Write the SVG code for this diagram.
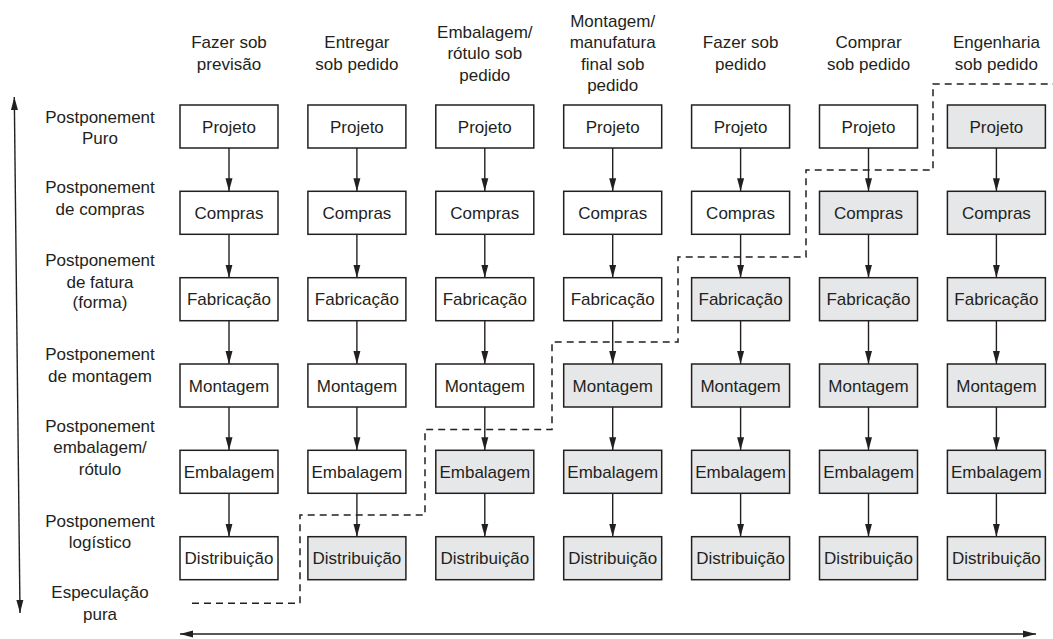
<svg xmlns="http://www.w3.org/2000/svg" width="1053" height="639" viewBox="0 0 1053 639">
<defs>
<marker id="ah" markerUnits="userSpaceOnUse" markerWidth="14" markerHeight="8" refX="13" refY="3.5" orient="auto-start-reverse" viewBox="0 0 14 7">
<path d="M0,0 L13,3.5 L0,7 Z" fill="#231f20"/>
</marker>
<style>
text{font-family:"Liberation Sans",Arial,sans-serif;font-size:17px;fill:#231f20;text-anchor:middle}
.b{fill:#fff;stroke:#231f20;stroke-width:1.5}
.g{fill:#e6e7e8;stroke:#231f20;stroke-width:1.5}
.c{stroke:#231f20;stroke-width:1.4;fill:none;marker-end:url(#ah)}
.ax{stroke:#231f20;stroke-width:1.4;fill:none;marker-start:url(#ah);marker-end:url(#ah)}
.d{stroke:#231f20;stroke-width:1.5;fill:none;stroke-dasharray:7 5}
</style>
</defs>
<rect width="1053" height="639" fill="#fff"/>

<g id="headers">
<text x="229" y="48">Fazer sob</text><text x="229" y="69.5">previsão</text>
<text x="356.9" y="48">Entregar</text><text x="356.9" y="69.5">sob pedido</text>
<text x="484.8" y="37.5">Embalagem/</text><text x="484.8" y="59">rótulo sob</text><text x="484.8" y="80.5">pedido</text>
<text x="612.7" y="26.5">Montagem/</text><text x="612.7" y="48">manufatura</text><text x="612.7" y="69.5">final sob</text><text x="612.7" y="91">pedido</text>
<text x="740.6" y="48">Fazer sob</text><text x="740.6" y="69.5">pedido</text>
<text x="868.5" y="48">Comprar</text><text x="868.5" y="69.5">sob pedido</text>
<text x="996.4" y="48">Engenharia</text><text x="996.4" y="69.5">sob pedido</text>
</g>

<g id="row-labels">
<text x="100" y="123.3">Postponement</text><text x="100" y="144">Puro</text>
<text x="100" y="193.3">Postponement</text><text x="100" y="215">de compras</text>
<text x="100" y="266">Postponement</text><text x="100" y="287.7">de fatura</text><text x="100" y="308.3">(forma)</text>
<text x="100" y="360">Postponement</text><text x="100" y="381.7">de montagem</text>
<text x="100" y="431.7">Postponement</text><text x="100" y="452.5">embalagem/</text><text x="100" y="474.5">rótulo</text>
<text x="100" y="526.7">Postponement</text><text x="100" y="547.5">logístico</text>
<text x="100" y="598.3">Especulação</text><text x="100" y="620">pura</text>
</g>

<g id="connectors">
<line class="c" x1="229" y1="148" x2="229" y2="191.3"/><line class="c" x1="229" y1="234.3" x2="229" y2="277.7"/><line class="c" x1="229" y1="320.7" x2="229" y2="364"/><line class="c" x1="229" y1="407" x2="229" y2="450.3"/><line class="c" x1="229" y1="493.3" x2="229" y2="536.7"/>
<line class="c" x1="356.9" y1="148" x2="356.9" y2="191.3"/><line class="c" x1="356.9" y1="234.3" x2="356.9" y2="277.7"/><line class="c" x1="356.9" y1="320.7" x2="356.9" y2="364"/><line class="c" x1="356.9" y1="407" x2="356.9" y2="450.3"/><line class="c" x1="356.9" y1="493.3" x2="356.9" y2="536.7"/>
<line class="c" x1="484.8" y1="148" x2="484.8" y2="191.3"/><line class="c" x1="484.8" y1="234.3" x2="484.8" y2="277.7"/><line class="c" x1="484.8" y1="320.7" x2="484.8" y2="364"/><line class="c" x1="484.8" y1="407" x2="484.8" y2="450.3"/><line class="c" x1="484.8" y1="493.3" x2="484.8" y2="536.7"/>
<line class="c" x1="612.7" y1="148" x2="612.7" y2="191.3"/><line class="c" x1="612.7" y1="234.3" x2="612.7" y2="277.7"/><line class="c" x1="612.7" y1="320.7" x2="612.7" y2="364"/><line class="c" x1="612.7" y1="407" x2="612.7" y2="450.3"/><line class="c" x1="612.7" y1="493.3" x2="612.7" y2="536.7"/>
<line class="c" x1="740.6" y1="148" x2="740.6" y2="191.3"/><line class="c" x1="740.6" y1="234.3" x2="740.6" y2="277.7"/><line class="c" x1="740.6" y1="320.7" x2="740.6" y2="364"/><line class="c" x1="740.6" y1="407" x2="740.6" y2="450.3"/><line class="c" x1="740.6" y1="493.3" x2="740.6" y2="536.7"/>
<line class="c" x1="868.5" y1="148" x2="868.5" y2="191.3"/><line class="c" x1="868.5" y1="234.3" x2="868.5" y2="277.7"/><line class="c" x1="868.5" y1="320.7" x2="868.5" y2="364"/><line class="c" x1="868.5" y1="407" x2="868.5" y2="450.3"/><line class="c" x1="868.5" y1="493.3" x2="868.5" y2="536.7"/>
<line class="c" x1="996.4" y1="148" x2="996.4" y2="191.3"/><line class="c" x1="996.4" y1="234.3" x2="996.4" y2="277.7"/><line class="c" x1="996.4" y1="320.7" x2="996.4" y2="364"/><line class="c" x1="996.4" y1="407" x2="996.4" y2="450.3"/><line class="c" x1="996.4" y1="493.3" x2="996.4" y2="536.7"/>
<line class="ax" x1="14.3" y1="97" x2="20" y2="613"/>
<line class="ax" x1="180" y1="634" x2="1036" y2="634"/>
<path class="d" d="M192,603.3 H300 V515 H425 V429.5 H552 V342 H678 V257 H806 V170 H933 V84 H1053"/>
</g>

<g id="col1">
<rect class="b" x="180" y="105" width="98" height="43"/><text x="229" y="132.7">Projeto</text>
<rect class="b" x="180" y="191.3" width="98" height="43"/><text x="229" y="219">Compras</text>
<rect class="b" x="180" y="277.7" width="98" height="43"/><text x="229" y="305.4">Fabricação</text>
<rect class="b" x="180" y="364" width="98" height="43"/><text x="229" y="391.7">Montagem</text>
<rect class="b" x="180" y="450.3" width="98" height="43"/><text x="229" y="478">Embalagem</text>
<rect class="b" x="180" y="536.7" width="98" height="43"/><text x="229" y="564.4">Distribuição</text>
</g>
<g id="col2">
<rect class="b" x="307.9" y="105" width="98" height="43"/><text x="356.9" y="132.7">Projeto</text>
<rect class="b" x="307.9" y="191.3" width="98" height="43"/><text x="356.9" y="219">Compras</text>
<rect class="b" x="307.9" y="277.7" width="98" height="43"/><text x="356.9" y="305.4">Fabricação</text>
<rect class="b" x="307.9" y="364" width="98" height="43"/><text x="356.9" y="391.7">Montagem</text>
<rect class="b" x="307.9" y="450.3" width="98" height="43"/><text x="356.9" y="478">Embalagem</text>
<rect class="g" x="307.9" y="536.7" width="98" height="43"/><text x="356.9" y="564.4">Distribuição</text>
</g>
<g id="col3">
<rect class="b" x="435.8" y="105" width="98" height="43"/><text x="484.8" y="132.7">Projeto</text>
<rect class="b" x="435.8" y="191.3" width="98" height="43"/><text x="484.8" y="219">Compras</text>
<rect class="b" x="435.8" y="277.7" width="98" height="43"/><text x="484.8" y="305.4">Fabricação</text>
<rect class="b" x="435.8" y="364" width="98" height="43"/><text x="484.8" y="391.7">Montagem</text>
<rect class="g" x="435.8" y="450.3" width="98" height="43"/><text x="484.8" y="478">Embalagem</text>
<rect class="g" x="435.8" y="536.7" width="98" height="43"/><text x="484.8" y="564.4">Distribuição</text>
</g>
<g id="col4">
<rect class="b" x="563.7" y="105" width="98" height="43"/><text x="612.7" y="132.7">Projeto</text>
<rect class="b" x="563.7" y="191.3" width="98" height="43"/><text x="612.7" y="219">Compras</text>
<rect class="b" x="563.7" y="277.7" width="98" height="43"/><text x="612.7" y="305.4">Fabricação</text>
<rect class="g" x="563.7" y="364" width="98" height="43"/><text x="612.7" y="391.7">Montagem</text>
<rect class="g" x="563.7" y="450.3" width="98" height="43"/><text x="612.7" y="478">Embalagem</text>
<rect class="g" x="563.7" y="536.7" width="98" height="43"/><text x="612.7" y="564.4">Distribuição</text>
</g>
<g id="col5">
<rect class="b" x="691.6" y="105" width="98" height="43"/><text x="740.6" y="132.7">Projeto</text>
<rect class="b" x="691.6" y="191.3" width="98" height="43"/><text x="740.6" y="219">Compras</text>
<rect class="g" x="691.6" y="277.7" width="98" height="43"/><text x="740.6" y="305.4">Fabricação</text>
<rect class="g" x="691.6" y="364" width="98" height="43"/><text x="740.6" y="391.7">Montagem</text>
<rect class="g" x="691.6" y="450.3" width="98" height="43"/><text x="740.6" y="478">Embalagem</text>
<rect class="g" x="691.6" y="536.7" width="98" height="43"/><text x="740.6" y="564.4">Distribuição</text>
</g>
<g id="col6">
<rect class="b" x="819.5" y="105" width="98" height="43"/><text x="868.5" y="132.7">Projeto</text>
<rect class="g" x="819.5" y="191.3" width="98" height="43"/><text x="868.5" y="219">Compras</text>
<rect class="g" x="819.5" y="277.7" width="98" height="43"/><text x="868.5" y="305.4">Fabricação</text>
<rect class="g" x="819.5" y="364" width="98" height="43"/><text x="868.5" y="391.7">Montagem</text>
<rect class="g" x="819.5" y="450.3" width="98" height="43"/><text x="868.5" y="478">Embalagem</text>
<rect class="g" x="819.5" y="536.7" width="98" height="43"/><text x="868.5" y="564.4">Distribuição</text>
</g>
<g id="col7">
<rect class="g" x="947.4" y="105" width="98" height="43"/><text x="996.4" y="132.7">Projeto</text>
<rect class="g" x="947.4" y="191.3" width="98" height="43"/><text x="996.4" y="219">Compras</text>
<rect class="g" x="947.4" y="277.7" width="98" height="43"/><text x="996.4" y="305.4">Fabricação</text>
<rect class="g" x="947.4" y="364" width="98" height="43"/><text x="996.4" y="391.7">Montagem</text>
<rect class="g" x="947.4" y="450.3" width="98" height="43"/><text x="996.4" y="478">Embalagem</text>
<rect class="g" x="947.4" y="536.7" width="98" height="43"/><text x="996.4" y="564.4">Distribuição</text>
</g>
</svg>
